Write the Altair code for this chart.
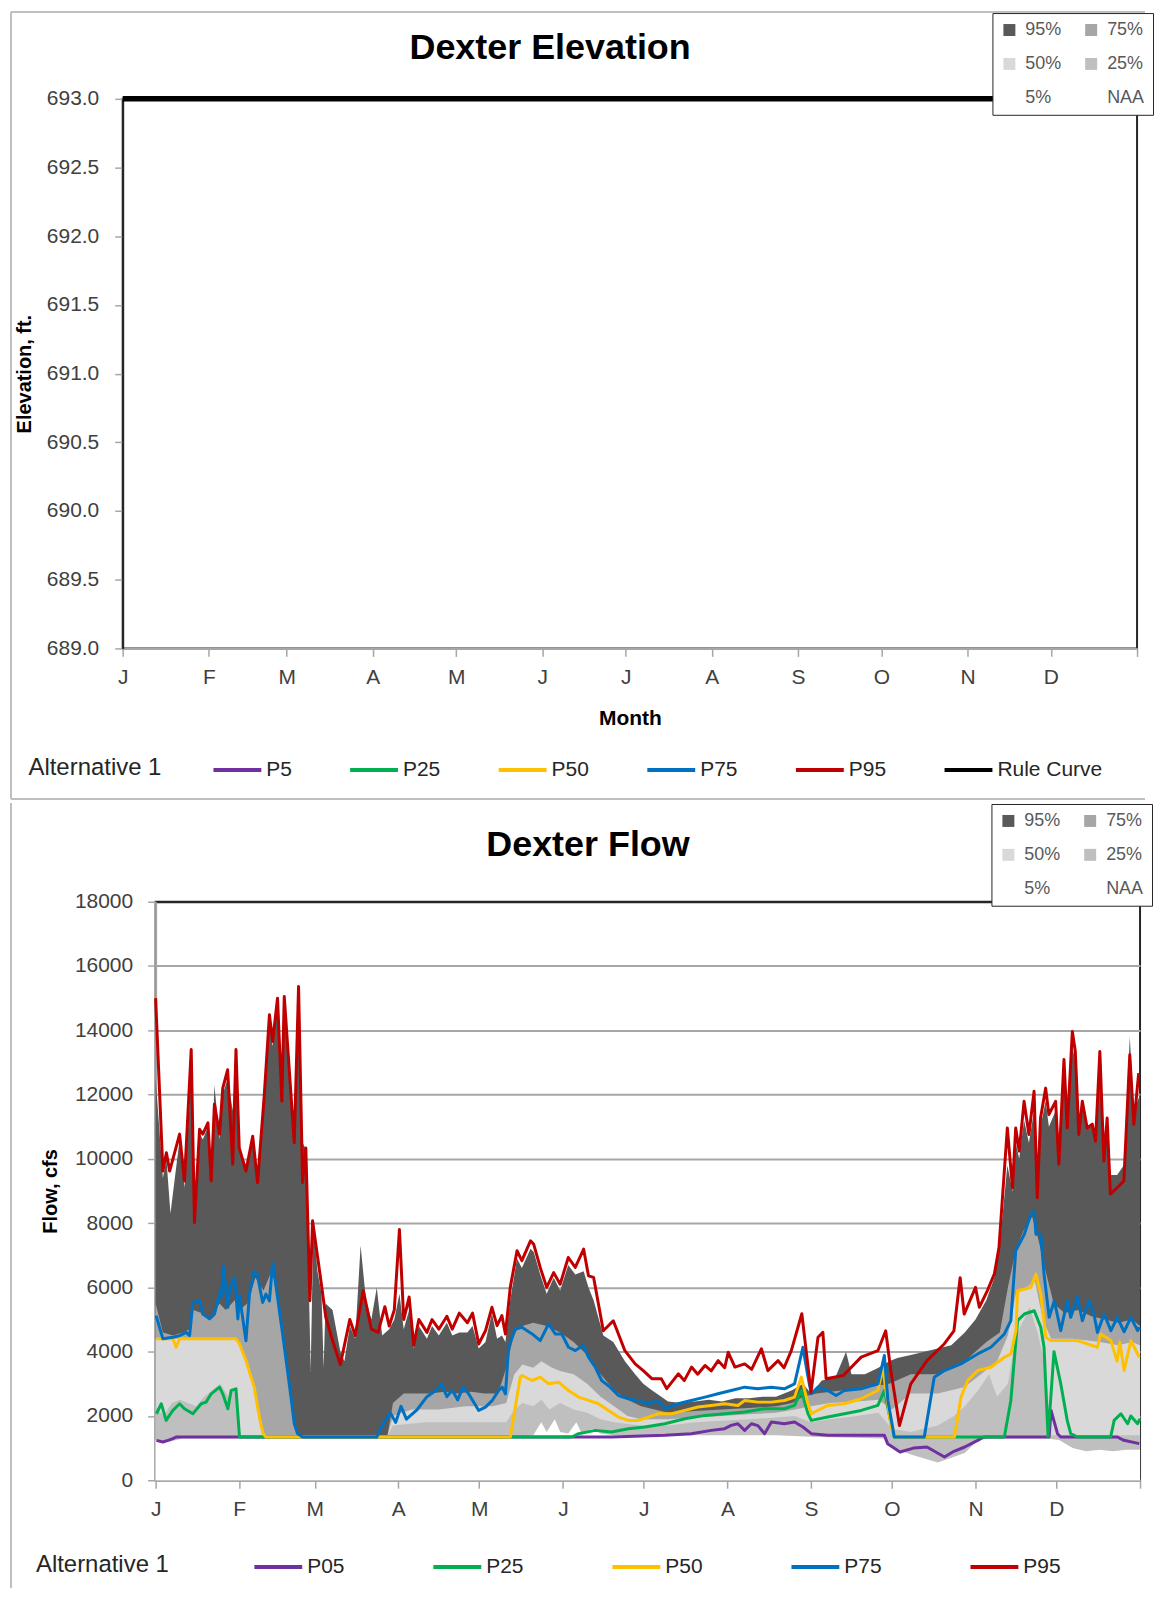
import json
import altair as alt
import pandas as pd

FONT = "Liberation Sans"

# ---------------- axes / categories ----------------
month_starts = [0, 31, 59, 90, 120, 151, 181, 212, 243, 273, 304, 334, 365]
month_labels = ["J", "F", "M", "A", "M", "J", "J", "A", "S", "O", "N", "D", ""]
elev_ticks = [689.0, 689.5, 690.0, 690.5, 691.0, 691.5, 692.0, 692.5, 693.0]
flow_ticks = [0, 2000, 4000, 6000, 8000, 10000, 12000, 14000, 16000, 18000]

elev_series = ["P5", "P25", "P50", "P75", "P95", "Rule Curve"]
elev_colors = ["#7030a0", "#00b050", "#ffc000", "#0070c0", "#c00000", "#000000"]
flow_series = ["P05", "P25", "P50", "P75", "P95"]
flow_colors = ["#7030a0", "#00b050", "#ffc000", "#0070c0", "#c00000"]
band_names = ["95%", "75%", "50%", "25%", "5%", "NAA"]
band_colors = ["#595959", "#a6a6a6", "#d9d9d9", "#bfbfbf", "#ffffff", "#ffffff"]

# ---------------- elevation data (day, ft) ----------------
rule_curve = [(0, 693.0), (365, 693.0)]

# ---------------- flow data (day, cfs) ----------------
p05 = [(0.3, 1241), (2.7, 1190), (4.6, 1241), (6.4, 1293), (7.6, 1345), (154.3, 1345), (169.1, 1345),
       (188.8, 1396), (198.6, 1448), (206, 1551), (211, 1603), (213.4, 1706), (215.9, 1758), (218.4, 1551),
       (220.9, 1758), (223.3, 1700), (225.8, 1448), (228.3, 1810), (233.1, 1758), (236.9, 1810), (240, 1655),
       (243.1, 1448), (249.2, 1396), (260, 1396), (270.2, 1396), (271.4, 1138), (276, 879), (281, 1000),
       (286, 1034), (292.5, 724), (296, 900), (300, 1034), (304.8, 1241), (307, 1345), (331.3, 1345),
       (332, 2172), (334.4, 1448), (335.6, 1345), (356.6, 1345), (359, 1241), (364.7, 1138)]

p25 = [(0.3, 2068), (2.1, 2379), (3.9, 1862), (6.4, 2172), (8.9, 2379), (10.7, 2224), (13.8, 2068),
       (16.9, 2379), (18.7, 2430), (20.6, 2689), (23.7, 2896), (24.9, 2689), (26.8, 2224), (28, 2792),
       (29.8, 2844), (31.1, 1345), (154.3, 1345), (156.8, 1448), (163, 1551), (169, 1500), (175.3, 1600),
       (181.4, 1655), (188.8, 1758), (196.2, 1913), (203.7, 2017), (211, 2068), (218.4, 2120), (225.8, 2224),
       (233.1, 2224), (236.9, 2327), (239.4, 2792), (241.9, 2068), (243.1, 1862), (249.2, 1965), (255.4, 2068),
       (261.6, 2172), (267.8, 2327), (270.2, 2792), (272.7, 1758), (273.9, 1345), (314.7, 1345), (317.1, 2482),
       (319.6, 4965), (322.1, 5171), (325.8, 5274), (328.2, 4758), (329.4, 4137), (330.9, 1345), (333.1, 4000),
       (335.6, 3000), (338, 1862), (339.3, 1448), (341.8, 1345), (354.1, 1345), (355.4, 1862), (357.9, 2068),
       (360.4, 1758), (361.6, 2000), (364.1, 1758), (364.9, 1913)]

p50 = [(0.3, 4400), (6.4, 4400), (7.6, 4137), (8.9, 4400), (29.8, 4400), (31.1, 4240), (33.5, 3724),
       (35.4, 3207), (36.6, 2896), (37.8, 2276), (39.1, 1706), (39.9, 1450), (40.9, 1345), (131.5, 1345),
       (135.2, 3207), (135.8, 3258), (139.6, 3103), (142.6, 3207), (145.7, 3000), (149.4, 3050), (153.1, 2792),
       (156.8, 2586), (160.5, 2482), (164.2, 2379), (167.9, 2172), (171.6, 1965), (175.3, 1862), (179, 1862),
       (182.7, 1965), (186.4, 2068), (191.3, 2068), (196.2, 2172), (201.1, 2276), (206, 2327), (211, 2379),
       (215.9, 2327), (218.4, 2482), (223.3, 2430), (228.3, 2430), (233.1, 2482), (236.9, 2586), (239.4, 3207),
       (241.9, 2379), (243.1, 2068), (249.2, 2327), (255.4, 2379), (261.6, 2534), (267.8, 2792), (269.6, 3517),
       (272.7, 1655), (274.6, 1345), (296.2, 1345), (298.6, 2586), (301.1, 3103), (304.8, 3413), (309.7, 3517),
       (314.7, 3827), (317.1, 3930), (319, 4655), (319.6, 5895), (324.5, 5998), (326.4, 6413), (328.2, 5792),
       (330.1, 4448), (331.9, 4344), (341.8, 4344), (349.2, 4137), (350.4, 4551), (354.2, 4344), (356.5, 3700),
       (357.5, 4300), (359.1, 3413), (361.6, 4344), (364.7, 3827)]

p75 = [(0.2, 5120), (2.7, 4400), (6.4, 4450), (8.9, 4500), (11.3, 4600), (12.6, 4500), (13.8, 5530),
       (16.3, 5590), (17.5, 5170), (20, 5020), (21.8, 5170), (23.7, 5790), (24.3, 5690), (25.2, 6650),
       (26.2, 5790), (26.8, 5380), (27.4, 5950), (29.3, 6310), (30.5, 5020), (31.1, 5740), (33.5, 4340),
       (34.8, 5790), (36.6, 6520), (37.8, 6360), (39.7, 5530), (40.9, 5790), (42.2, 5580), (43.4, 6770),
       (45.2, 5690), (47.1, 4550), (48.9, 3410), (50.2, 2580), (51.4, 1760), (52.6, 1450), (54.5, 1345),
       (82, 1345), (84, 1700), (87, 2100), (89, 1800), (91, 2300), (93, 1900), (97, 2200), (100.6, 2600),
       (104, 2800), (106, 3000), (108, 2600), (110, 2800), (112, 2500), (114, 2900), (116, 2700),
       (119.8, 2172), (122.3, 2276), (124.8, 2482), (127.2, 2792), (128.5, 2896), (129.7, 2689), (130.9, 4137),
       (133.4, 4706), (135.8, 4758), (139.6, 4551), (142.6, 4344), (145.7, 4861), (148.2, 4551), (150.6, 4551),
       (153.1, 4137), (155.6, 4034), (158.6, 4189), (160.5, 3827), (163, 3517), (165.4, 3103), (168.5, 2896),
       (171.6, 2637), (175.3, 2534), (179, 2482), (182.7, 2379), (186.4, 2482), (188.8, 2224), (193.7, 2379),
       (198.6, 2482), (203.7, 2586), (208.5, 2689), (213.4, 2792), (218.4, 2896), (223.3, 2844), (228.3, 2896),
       (233.1, 2844), (236.9, 3000), (240, 4137), (241.9, 3207), (243.1, 2689), (245.6, 2896), (249.2, 2792),
       (252.3, 2637), (255.4, 2792), (261.6, 2844), (267.8, 3000), (270.2, 3880), (271.5, 2482), (273.9, 1345),
       (285, 1345), (288.7, 3207), (292.5, 3413), (298.6, 3620), (304.8, 3930), (309.7, 4137), (314.7, 4551),
       (317.1, 4965), (318.9, 7137), (322.1, 7654), (324.5, 8274), (325.8, 8378), (326.4, 7654), (328.2, 7654),
       (329.4, 6413), (331.3, 5068), (333.2, 5585), (335.6, 4655), (338, 5585), (339.3, 5068), (341.8, 5700),
       (343.6, 4965), (346.1, 5585), (347.9, 5171), (349.2, 4600), (351.7, 5171), (354.2, 4655), (356.6, 5068),
       (359.1, 4620), (361.6, 5068), (364.1, 4655), (364.8, 4760)]

p95 = [(0, 15000), (2.7, 9620), (4, 10190), (5.2, 9620), (8.9, 10770), (10.7, 9310), (13.2, 13400),
       (14.4, 8015), (16.3, 10920), (17.5, 10770), (19.4, 11120), (20.6, 9310), (21.8, 11700), (23.7, 10770),
       (24.9, 12200), (26.7, 12770), (28.6, 9830), (29.8, 13400), (31, 10340), (33.5, 9620), (36, 10700),
       (37.8, 9260), (40.3, 12000), (42.2, 14480), (43.4, 13650), (45.2, 15000), (46.8, 11790), (47.7, 15050),
       (51.4, 10500), (53, 15360), (54.5, 9260), (55.7, 10340), (57.2, 5585), (58.2, 8070), (61.3, 6200),
       (63.1, 5070), (65.6, 4345), (68.5, 3600), (72, 5000), (74, 4500), (77, 5900), (80, 4700), (82.5, 4600),
       (85, 5400), (86.6, 4800), (88.5, 5300), (90.4, 7800), (92, 5000), (94, 5700), (95.7, 4200), (97.6, 5000),
       (100.6, 4600), (102.5, 5000), (105, 4700), (108, 5100), (110, 4700), (112.6, 5200), (115.6, 4900),
       (117.5, 5200), (119.8, 4240), (122.3, 4650), (124.7, 5380), (126.6, 4810), (128.4, 5120), (129.7, 4550),
       (131.5, 6000), (134, 7140), (135.8, 6830), (139, 7450), (140.2, 7340), (142.6, 6620), (145, 6000),
       (147.6, 6460), (150, 6100), (153, 6930), (155.6, 6620), (158.7, 7190), (160.5, 6360), (162.4, 6310),
       (166, 4650), (169.7, 4960), (174, 4030), (177.8, 3620), (180.8, 3410), (184, 3160), (187.5, 3160),
       (189.5, 2850), (193.8, 3310), (196, 3100), (198.7, 3520), (201, 3300), (203.7, 3570), (206, 3400),
       (208.6, 3720), (211, 3500), (212.3, 3980), (214.8, 3520), (218.4, 3620), (221, 3450), (224.6, 4090),
       (227, 3410), (230.8, 3720), (233, 3500), (235.7, 4030), (239.6, 5180), (243, 2740), (245.6, 4450),
       (247.4, 4600), (248.6, 3160), (255, 3260), (261.6, 3830), (267.8, 4030), (270.7, 4650), (272.6, 3410),
       (275.8, 1700), (280, 3000), (286, 3720), (292.4, 4240), (296, 4650), (298.3, 6300), (299.8, 5170),
       (304, 6000), (305.4, 5380), (308.4, 5900), (311, 6420), (312.7, 7240), (315.8, 10960), (317.7, 9100),
       (318.9, 10960), (320.2, 10240), (322, 11790), (323.8, 10760), (325.7, 12100), (326.9, 8790),
       (328.1, 11270), (330, 12200), (331.2, 11380), (333.7, 11790), (334.9, 9830), (336.8, 13090), (338, 10960),
       (339.9, 13960), (341, 13340), (342.3, 10760), (343.6, 11790), (345.4, 10960), (347.3, 11080),
       (348.5, 10550), (350.1, 13340), (351.6, 9930), (352.8, 11270), (354, 8900), (356.5, 9100), (359, 9310),
       (361.2, 13240), (362.7, 11070), (364.5, 12670)]

# NAA percentile bands (day, cfs)
naa95 = [(0, 12500), (2.7, 9400), (4, 10000), (5.5, 8300), (8.9, 10600), (10.7, 9100), (13.2, 12500),
         (14.4, 8500), (16.3, 10800), (17.5, 10600), (19.4, 11000), (20.6, 9400), (21.8, 12300), (23.7, 10600),
         (24.9, 12000), (26.7, 12500), (28.6, 11500), (29.8, 13000), (31, 10300), (33.5, 9800), (36, 10600),
         (37.8, 9500), (40.3, 11800), (42.2, 14200), (43.4, 13500), (45.2, 14800), (46.8, 12500), (47.7, 14800),
         (50, 12000), (51.4, 10500), (53, 15000), (54.5, 10500), (55.7, 10300), (57.5, 3400), (58.5, 8000),
         (60, 6500), (61.5, 5800), (62.3, 3500), (63, 5500), (65.6, 5300), (68.5, 4000), (70, 3700), (72, 4800),
         (74, 4400), (76, 7300), (78, 5600), (80, 5000), (82, 6000), (84, 4500), (86.6, 4700), (88.5, 5000),
         (90.4, 5800), (92, 4700), (94, 5300), (95.7, 4100), (97.6, 4800), (100.6, 4400), (102.5, 4800),
         (105, 4500), (108, 4900), (110, 4500), (112.6, 4600), (115.6, 4600), (117.5, 4800), (119.8, 4100),
         (122.3, 4300), (124.7, 5200), (126.6, 4400), (128.4, 4500), (129.7, 4300), (131.5, 5600), (134, 6900),
         (135.8, 6600), (139, 7200), (140.2, 7100), (142.6, 6400), (145, 5800), (147.6, 6300), (150, 5900),
         (153, 6700), (155.6, 6400), (158.7, 6500), (160.5, 6000), (162.4, 5600), (166, 4500), (169.7, 4300),
         (174, 3700), (177.8, 3300), (180.8, 3000), (184, 2800), (187.5, 2600), (190, 2450), (195, 2400),
         (200, 2450), (205, 2500), (210, 2450), (215, 2550), (220, 2550), (225, 2600), (230, 2600), (236, 2800),
         (240, 3000), (243, 2700), (247, 3100), (252, 3200), (256, 4000), (258, 3300), (263, 3300), (268, 3500),
         (272, 3700), (275, 3800), (280, 3900), (285, 4000), (290, 4100), (295, 4200), (300, 4600), (304, 5000),
         (308, 5600), (311, 6300), (313, 7300), (315.8, 9800), (317.7, 9000), (318.9, 10500), (320.2, 10000),
         (322, 11200), (323.8, 10500), (325.7, 11500), (326.9, 9500), (328.1, 11000), (330, 11800),
         (331.2, 11000), (333.7, 11500), (334.9, 10500), (336.8, 12500), (338, 11000), (339.9, 13500),
         (341, 13000), (342.3, 11000), (343.6, 11500), (345.4, 11000), (347.3, 11000), (348.5, 10500),
         (350.1, 12800), (351.6, 10300), (352.8, 11000), (354, 9500), (356.5, 9500), (359, 9800), (361.2, 13800),
         (362.7, 11500), (365, 12000)]

naa75 = [(0, 5500), (2.7, 4600), (6.4, 4500), (10, 4600), (12.6, 4700), (14, 5300), (17, 5200), (20, 5000),
         (23.7, 5500), (26, 5300), (29.3, 5600), (31, 5300), (34, 5500), (37, 6300), (40, 5900), (43, 6500),
         (45, 6000), (47, 4800), (49, 3300), (51, 1800), (53, 1400), (86, 1400), (88, 2400), (92, 2700),
         (97, 2700), (102, 2700), (107, 2750), (112, 2700), (117, 2750), (122, 2700), (127, 2700), (130, 3500),
         (133, 4600), (136, 4800), (140, 4900), (145, 4800), (150, 4600), (155, 4300), (160, 3900), (165, 3300),
         (170, 2800), (175, 2500), (180, 2300), (190, 2100), (200, 2150), (210, 2200), (220, 2250), (230, 2300),
         (236, 2400), (240, 2600), (245, 2700), (255, 2800), (265, 2900), (272, 3000), (280, 3300), (290, 3300),
         (300, 3700), (308, 4300), (313, 4600), (316, 6000), (319, 7200), (322, 7800), (325, 8200), (327, 7600),
         (330, 6500), (333, 5500), (337, 5200), (342, 5300), (347, 5100), (352, 5000), (357, 4900), (362, 5000),
         (365, 4800)]

naa50 = [(0, 4400), (29.8, 4400), (31.1, 4200), (33.5, 3700), (35.4, 3200), (37, 2600), (38.5, 1800),
         (40, 1400), (86, 1400), (88, 2000), (95, 2200), (105, 2200), (115, 2300), (125, 2300), (130, 2400),
         (133, 3300), (136, 3600), (140, 3500), (143, 3700), (147, 3500), (150, 3400), (155, 3300), (160, 3000),
         (165, 2600), (170, 2300), (175, 2000), (180, 1900), (190, 1900), (200, 1950), (210, 2000), (220, 2050),
         (230, 2100), (237, 2200), (243, 2300), (250, 2400), (260, 2450), (268, 2500), (273, 2200), (280, 2700),
         (290, 2700), (300, 2900), (306, 3300), (312, 3700), (316, 4500), (319, 5800), (323, 6000), (326, 6200),
         (329, 5000), (332, 4400), (340, 4400), (350, 4300), (357, 4200), (362, 4300), (365, 4200)]

naa25 = [(0, 2300), (3, 2000), (6, 2400), (9, 2500), (12, 2400), (15, 2300), (18, 2600), (21, 2800),
         (24, 3000), (27, 2600), (30, 2900), (31.5, 1400), (86, 1400), (88, 1700), (100, 1800), (115, 1800),
         (130, 1800), (133, 2200), (136, 2400), (140, 2300), (143, 2500), (146, 2200), (150, 2400), (155, 2200),
         (160, 2100), (165, 1900), (170, 1800), (180, 1700), (190, 1700), (200, 1800), (210, 1850), (220, 1900),
         (230, 1950), (237, 2000), (243, 1800), (250, 1900), (260, 2000), (268, 2100), (273, 1600), (280, 1500),
         (290, 1700), (296, 2000), (300, 2300), (305, 2800), (309, 3300), (312, 2600), (316, 3000), (319, 4500),
         (322, 5000), (324, 5400), (327, 4600), (330, 3500), (332, 1400), (365, 1400)]

naa05 = [(0, 1250), (5, 1200), (10, 1300), (30, 1300), (60, 1300), (100, 1300), (130, 1300), (140, 1400),
         (143, 1800), (145, 1500), (148, 1900), (150, 1500), (153, 1450), (156, 1800), (158, 1450), (162, 1600),
         (165, 1450), (170, 1400), (200, 1400), (230, 1400), (243, 1350), (270, 1300), (274, 1000), (280, 800),
         (286, 650), (290, 550), (295, 700), (300, 850), (305, 1250), (310, 1300), (330, 1300), (335, 1250),
         (340, 1000), (345, 900), (350, 950), (355, 900), (360, 950), (365, 950)]


def to_frame(key, name, pairs):
    return pd.DataFrame({"day": [p[0] for p in pairs], "v": [p[1] for p in pairs], key: name})


lines_df = pd.concat([to_frame("series", s, d) for s, d in zip(flow_series, [p05, p25, p50, p75, p95])],
                     ignore_index=True)
bands_df = pd.concat([to_frame("band", b, d) for b, d in zip(band_names[:5], [naa95, naa75, naa50, naa25, naa05])],
                     ignore_index=True)
rule_df = to_frame("series", "Rule Curve", rule_curve)
empty_bands = pd.DataFrame({"day": [0.0] * 6, "v": [689.0] * 6, "band": band_names})

label_expr = f"{json.dumps(month_labels)}[indexof({json.dumps(month_starts)}, datum.value)]"

GRAY = "#a6a6a6"
DARK = "#262626"


def x_axis(title):
    kw = dict(values=month_starts, labelExpr=label_expr, grid=False, tickSize=8, tickColor=GRAY,
              tickWidth=1.5, domainColor=GRAY, domainWidth=2, labelFont=FONT, labelFontSize=21,
              labelColor="#404040", labelPadding=10, labelFlush=False, labelOverlap=False, labelAngle=0)
    if title:
        kw.update(title=title, titleFont=FONT, titleFontSize=21, titleFontWeight="bold",
                  titleColor="#000000", titlePadding=20)
    else:
        kw["title"] = None
    return alt.Axis(**kw)


def line_legend(lx, ly, tpad, cpad):
    return alt.Legend(title="Alternative 1", orient="none", legendX=lx, legendY=ly, direction="horizontal",
                      titleOrient="left", titleAnchor="middle", titleBaseline="line-top", titleLineHeight=13,
                      titleFont=FONT, titleFontSize=24, titleFontWeight="normal", titleColor=DARK,
                      titlePadding=tpad, symbolType="stroke", symbolSize=2304, symbolStrokeWidth=4,
                      labelFont=FONT, labelFontSize=21, labelColor=DARK, labelOffset=3, columnPadding=cpad,
                      padding=0)


def box_legend(lx, ly):
    return alt.Legend(title=None, orient="none", legendX=lx, legendY=ly, direction="horizontal", columns=2,
                      symbolType="square", symbolSize=144, symbolStrokeWidth=0, labelFont=FONT,
                      labelFontSize=18, labelColor="#595959", labelOffset=7, columnPadding=20,
                      rowPadding=16, padding=8, strokeColor=DARK, fillColor="#ffffff")


def borders(lines):
    base = alt.Chart(pd.DataFrame({"k": [0]})).mark_rule(color="#bfbfbf", strokeWidth=2)
    return [base.encode(**{k: alt.value(v) for k, v in ln.items()}) for ln in lines]


def spacer():
    return alt.Chart(pd.DataFrame({"k": [0]})).mark_text(text="", opacity=0).encode(
        x=alt.value(0), y=alt.value(0)).properties(width=1, height=1, view=alt.ViewBackground(strokeOpacity=0))


# ---------------- top chart: elevation ----------------
W1, H1 = 1017, 551
xs1 = alt.X("day:Q", scale=alt.Scale(domain=[0, 365], nice=False, zero=False), axis=x_axis("Month"))
ys1 = alt.Y("v:Q", stack=None, scale=alt.Scale(domain=[689, 693], nice=False, zero=False),
            axis=alt.Axis(values=elev_ticks, format=".1f", grid=False, tickSize=8, tickColor=GRAY,
                          tickWidth=1.5, domainColor=DARK, domainWidth=2, labelFont=FONT, labelFontSize=21,
                          labelColor="#404040", labelPadding=16, title="Elevation, ft.", titleFont=FONT,
                          titleFontSize=20, titleFontWeight="bold", titleColor="#000000", titlePadding=12))
top_layers = borders([
    dict(x=-112, y=-87, y2=702),
    dict(x=-112, x2=1025, y=-87),
    dict(x=-112, x2=1025, y=702),
]) + [
    alt.Chart(empty_bands).transform_filter("datum.day < 0").mark_area(opacity=1).encode(
        x=xs1, y=ys1,
        fill=alt.Fill("band:N", scale=alt.Scale(domain=band_names, range=band_colors),
                      legend=box_legend(872, -86))),
    alt.Chart(rule_df).mark_line(strokeCap="butt", strokeWidth=5.5).encode(
        x=xs1, y=ys1,
        stroke=alt.Stroke("series:N", scale=alt.Scale(domain=elev_series, range=elev_colors),
                          legend=line_legend(-94.5, 647, 49.5, 50))),
]
top = alt.layer(*top_layers).properties(
    width=W1, height=H1,
    title=alt.TitleParams("Dexter Elevation", font=FONT, fontSize=36, fontWeight="bold", color="#000000",
                          anchor="middle", frame="group", dx=-80, offset=-84, baseline="alphabetic"))

# ---------------- bottom chart: flow ----------------
W2, H2 = 987, 580
xs2 = alt.X("day:Q", scale=alt.Scale(domain=[0, 365], nice=False, zero=False), axis=x_axis(None))
ys2 = alt.Y("v:Q", stack=None, scale=alt.Scale(domain=[0, 18000], nice=False),
            axis=alt.Axis(values=flow_ticks, format="d", grid=True,
                          gridColor={"condition": {"test": "datum.value >= 18000", "value": DARK}, "value": GRAY},
                          gridWidth=2, tickSize=8, tickColor=GRAY, tickWidth=1.5, domainColor=GRAY,
                          domainWidth=2, labelFont=FONT, labelFontSize=21, labelColor="#404040",
                          labelPadding=15, title="Flow, cfs", titleFont=FONT, titleFontSize=20,
                          titleFontWeight="bold", titleColor="#000000", titlePadding=14))
fill_enc = alt.Fill("band:N", scale=alt.Scale(domain=band_names, range=band_colors), legend=box_legend(838, -98))
stroke_enc = alt.Stroke("series:N", scale=alt.Scale(domain=flow_series, range=flow_colors),
                        legend=line_legend(-120, 641, 83, 80.5))

bottom_layers = borders([dict(x=-145, y=-99, y2=688)])
for b in band_names[:5]:
    bottom_layers.append(
        alt.Chart(bands_df).transform_filter(alt.datum.band == b).mark_area(opacity=1, interpolate="linear")
        .encode(x=xs2, y=ys2, fill=fill_enc))
for s in flow_series:
    bottom_layers.append(
        alt.Chart(lines_df).transform_filter(alt.datum.series == s).mark_line(strokeWidth=3, strokeJoin="round")
        .encode(x=xs2, y=ys2, stroke=stroke_enc))
bottom = alt.layer(*bottom_layers).properties(
    width=W2, height=H2,
    title=alt.TitleParams("Dexter Flow", font=FONT, fontSize=36, fontWeight="bold", color="#000000",
                          anchor="middle", frame="group", dx=-60, offset=-90.5, baseline="alphabetic"))

RES = dict(x="independent", y="independent", stroke="independent", fill="independent")
row1 = alt.hconcat(spacer(), top, spacing=0).resolve_scale(**RES)
row2 = alt.hconcat(spacer(), bottom, spacing=0).resolve_scale(**RES)
chart = alt.vconcat(row1, row2, spacing=0, padding=0).resolve_scale(**RES).configure(
    background="#ffffff").configure_view(stroke=DARK, strokeWidth=2)

chart.save("out.html", embed_options={"renderer": "svg", "actions": False})
